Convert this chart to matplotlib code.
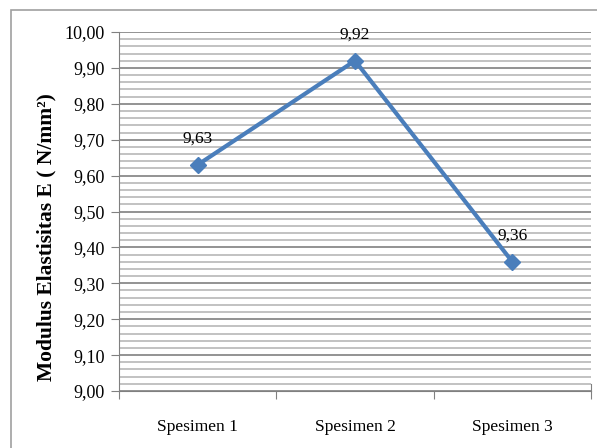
import matplotlib.pyplot as plt
from matplotlib.patches import Rectangle
from matplotlib.ticker import MultipleLocator

categories = ["Spesimen 1", "Spesimen 2", "Spesimen 3"]
values = [9.63, 9.92, 9.36]
labels = ["9,63", "9,92", "9,36"]

plt.rcParams['font.family'] = ['Liberation Serif', 'DejaVu Serif']

fig = plt.figure(figsize=(5.97, 4.48), dpi=100)
ax = fig.add_axes([119 / 597, 1 - 391 / 448, (591 - 119) / 597, (391 - 32) / 448])

# outer chart border (runs off the right and bottom of the image)
fig.patches.append(Rectangle((11 / 597, -0.1), 1.1, 1 - 10 / 448 + 0.1,
                             transform=fig.transFigure, fill=False,
                             edgecolor="#a0a0a0", linewidth=1.2))

x = [0.5, 1.5, 2.5]
ax.plot(x, values, color="#4A7EBB", linewidth=3, marker="D", markersize=8, zorder=3)
for xi, v, t in zip(x, values, labels):
    ax.annotate(t, (xi, v), xytext=(0, 19), textcoords="offset points",
                ha="center", va="center", fontsize=12.5)

ax.set_xlim(0, 3)
ax.set_ylim(9.0, 10.0)
ax.yaxis.set_minor_locator(MultipleLocator(0.02))
ax.set_yticks([9.0 + i * 0.1 for i in range(11)])
ax.set_yticklabels([("%.2f" % (9.0 + i * 0.1)).replace(".", ",") for i in range(11)], fontsize=13)
ax.set_xticks([0, 1, 2, 3])
ax.set_xticklabels([])
ax.set_xticks(x, minor=True)
ax.set_xticklabels(categories, minor=True, fontsize=12.5)
ax.tick_params(axis="x", which="minor", length=0, pad=20)
ax.tick_params(axis="x", which="major", length=6, color="#808080", direction="out")
ax.tick_params(axis="y", which="major", length=6, color="#808080", direction="out", pad=4)
ax.tick_params(axis="y", which="minor", length=0)

ax.grid(axis="y", which="major", color="#808080", linewidth=1.2)
ax.grid(axis="y", which="minor", color="#b8b8b8", linewidth=1.2)
ax.set_axisbelow(True)

ax.spines["top"].set_visible(False)
ax.spines["left"].set_color("#808080")
ax.spines["bottom"].set_color("#808080")
ax.spines["right"].set_color("#808080")
ax.spines["right"].set_bounds(9.0, 9.02)

fig.text(46 / 597, 1 - 237 / 448, "Modulus Elastisitas E ( N/mm²)", rotation=90,
         ha="center", va="center", fontsize=15.5, fontweight="bold")

fig.savefig("out.png", dpi=100)
